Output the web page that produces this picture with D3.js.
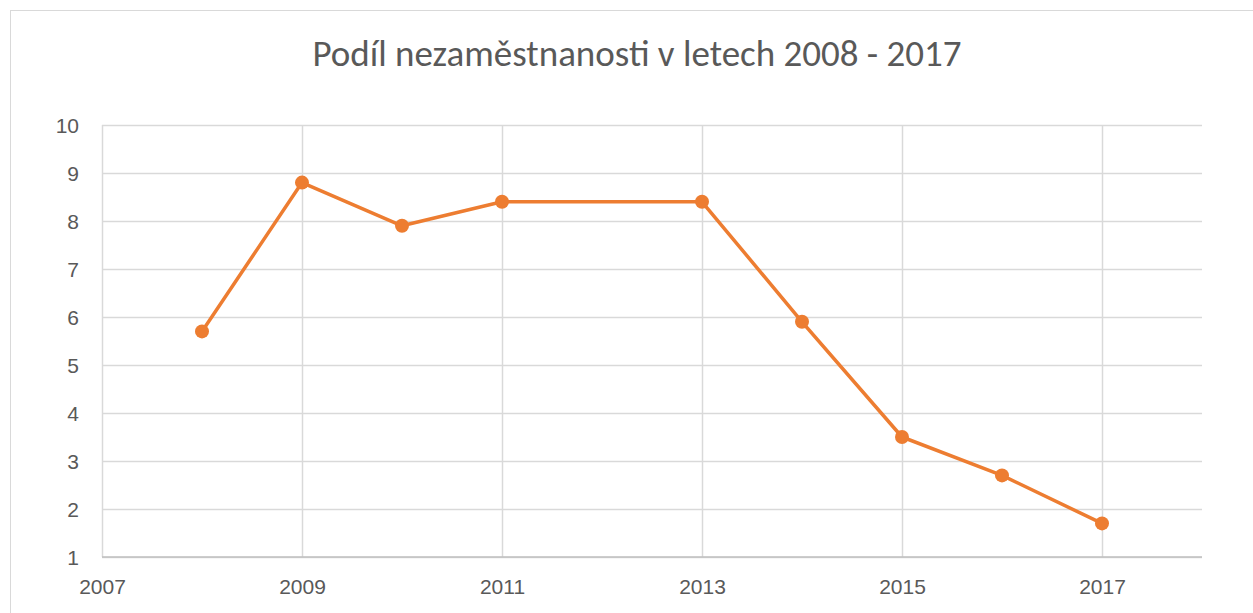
<!DOCTYPE html>
<html>
<head>
<meta charset="utf-8">
<script src="https://cdn.jsdelivr.net/npm/d3@7"></script>
<style>
  body { margin: 0; background: #fff; }
  svg { display: block; font-family: Carlito, Lato, "Open Sans", sans-serif; }
</style>
</head>
<body>
<div id="chart"></div>
<script>
// values (2012 has no point)
const years = [2008, 2009, 2010, 2011, 2013, 2014, 2015, 2016, 2017];
const unemployment = [5.7, 8.8, 7.9, 8.4, 8.4, 5.9, 3.5, 2.7, 1.7];
const xTicks = [2007, 2009, 2011, 2013, 2015, 2017];
const yTicks = [1, 2, 3, 4, 5, 6, 7, 8, 9, 10];
const xDomain = [2007, 2018];
const yDomain = [1, 10];
const titleText = "Podíl nezaměstnanosti v letech 2008 - 2017";

const svgWidth = 1253, svgHeight = 613;
const margin = {top: 125, right: 51, bottom: 56, left: 102};
const w = svgWidth - margin.left - margin.right;
const h = svgHeight - margin.top - margin.bottom;

let svg = d3.select("#chart").append("svg")
    .attr("width", svgWidth)
    .attr("height", svgHeight);

// chart frame
svg.append("rect")
    .attr("x", 10.5).attr("y", 10.5)
    .attr("width", 1262).attr("height", 630)
    .attr("fill", "#fff")
    .attr("stroke", "#d9d9d9")
    .attr("stroke-width", 1);

svg.append("text")
    .attr("x", 637)
    .attr("y", 66)
    .attr("text-anchor", "middle")
    .attr("fill", "#595959")
    .style("font-size", "37px")
    .text(titleText);

let g = svg.append("g")
    .attr("transform", "translate(" + margin.left + "," + margin.top + ")");

let xScale = d3.scaleLinear().domain(xDomain).range([0, w]);
let yScale = d3.scaleLinear().domain(yDomain).range([h, 0]);

// horizontal grid + y labels
let yAxis = g.append("g")
    .call(d3.axisLeft(yScale).tickValues(yTicks).tickSize(-w).tickPadding(23).tickFormat(d3.format("d")));
yAxis.select(".domain").remove();
yAxis.selectAll("line").attr("stroke", "#d9d9d9").attr("stroke-width", 1.5);
yAxis.selectAll("text").attr("fill", "#595959").style("font-size", "21px").attr("dy", "0.36em");

// vertical grid + x labels
let xAxis = g.append("g")
    .attr("transform", "translate(0," + h + ")")
    .call(d3.axisBottom(xScale).tickValues(xTicks).tickSize(-h).tickPadding(22).tickFormat(d3.format("d")));
xAxis.select(".domain").remove();
xAxis.selectAll("line").attr("stroke", "#d9d9d9").attr("stroke-width", 1.5);
xAxis.selectAll("text").attr("fill", "#595959").style("font-size", "21px");

// bottom axis line
g.append("line")
    .attr("x1", 0).attr("x2", w)
    .attr("y1", h).attr("y2", h)
    .attr("stroke", "#bfbfbf")
    .attr("stroke-width", 1.5);

let points = years.map(function(y, i){ return {year: y, value: unemployment[i]}; });

let line = d3.line()
    .x(function(d){ return xScale(d.year); })
    .y(function(d){ return yScale(d.value); });

g.append("path")
    .datum(points)
    .attr("d", line)
    .attr("fill", "none")
    .attr("stroke", "#ed7d31")
    .attr("stroke-width", 3.5)
    .attr("stroke-linejoin", "round");

g.selectAll("circle.pt")
    .data(points)
    .enter().append("circle")
    .attr("class", "pt")
    .attr("cx", function(d){ return xScale(d.year); })
    .attr("cy", function(d){ return yScale(d.value); })
    .attr("r", 7)
    .attr("fill", "#ed7d31");
</script>
</body>
</html>
